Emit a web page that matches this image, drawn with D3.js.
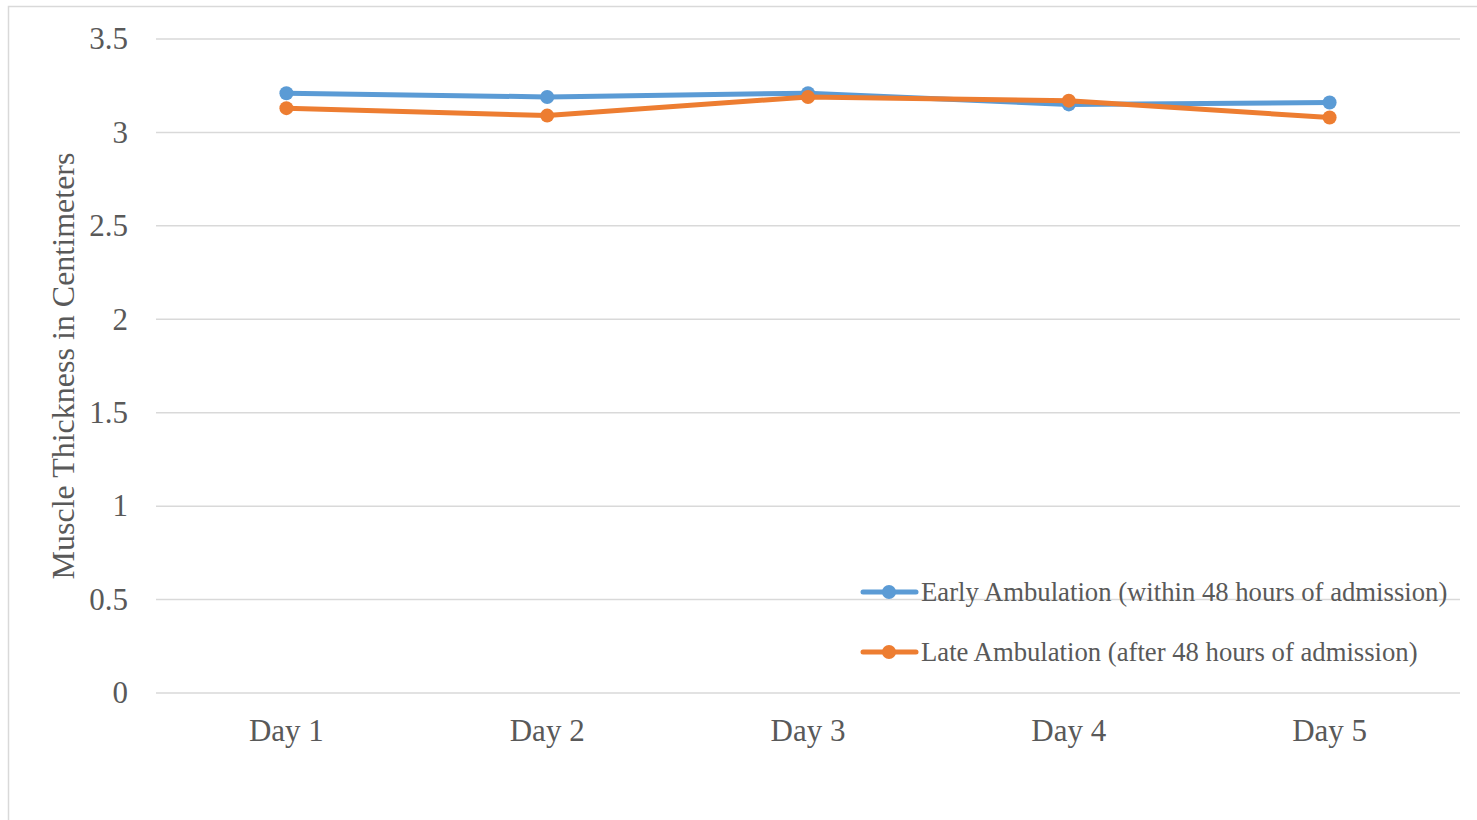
<!DOCTYPE html>
<html>
<head>
<meta charset="utf-8">
<script src="https://cdn.jsdelivr.net/npm/d3@7"></script>
<style>
  body { margin: 0; background: #fff; }
</style>
</head>
<body>
<div id="chart"></div>
<script>
// data
var days = ["Day 1", "Day 2", "Day 3", "Day 4", "Day 5"];
var early = [3.21, 3.19, 3.21, 3.15, 3.16];
var late = [3.13, 3.09, 3.19, 3.17, 3.08];
var seriesNames = ["Early Ambulation (within 48 hours of admission)", "Late Ambulation (after 48 hours of admission)"];
var yTicks = [0, 0.5, 1, 1.5, 2, 2.5, 3, 3.5];

const width = 1477, height = 820;
const colors = ["#5b9bd5", "#ed7d31"];

const svg = d3.select("#chart").append("svg")
    .attr("width", width)
    .attr("height", height)
    .attr("font-family", "'Liberation Serif', 'DejaVu Serif', serif")
    .attr("fill", "#595959");

// chart frame
svg.append("rect")
    .attr("x", 8.5).attr("y", 6.5)
    .attr("width", 1480).attr("height", 840)
    .attr("fill", "none")
    .attr("stroke", "#d9d9d9")
    .attr("stroke-width", 1.5);

const x = d3.scaleBand().domain(days).range([156, 1460]);
const y = d3.scaleLinear().domain([0, 3.5]).range([693, 39]);

// gridlines
svg.append("g").selectAll("line")
    .data(yTicks)
    .enter().append("line")
    .attr("x1", 156).attr("x2", 1460)
    .attr("y1", d => y(d)).attr("y2", d => y(d))
    .attr("stroke", "#d9d9d9")
    .attr("stroke-width", 1.5);

// y tick labels
svg.append("g").selectAll("text")
    .data(yTicks)
    .enter().append("text")
    .attr("x", 128)
    .attr("y", d => y(d))
    .attr("dy", "0.33em")
    .attr("text-anchor", "end")
    .style("font-size", "31px")
    .text(d => d);

// x labels
svg.append("g").selectAll("text")
    .data(days)
    .enter().append("text")
    .attr("x", d => x(d) + x.bandwidth() / 2)
    .attr("y", 730)
    .attr("dy", "0.35em")
    .attr("text-anchor", "middle")
    .style("font-size", "31px")
    .text(d => d);

// y title
svg.append("text")
    .attr("transform", "translate(63,366) rotate(-90)")
    .attr("dy", "0.35em")
    .attr("text-anchor", "middle")
    .style("font-size", "32px")
    .text("Muscle Thickness in Centimeters");

var line = d3.line()
    .x((d, i) => x(days[i]) + x.bandwidth() / 2)
    .y(d => y(d));

[early, late].forEach(function(vals, k) {
    svg.append("path")
        .datum(vals)
        .attr("d", line)
        .attr("fill", "none")
        .attr("stroke", colors[k])
        .attr("stroke-width", 5)
        .attr("stroke-linejoin", "round")
        .attr("stroke-linecap", "round");
    svg.append("g").selectAll("circle")
        .data(vals)
        .enter().append("circle")
        .attr("cx", (d, i) => x(days[i]) + x.bandwidth() / 2)
        .attr("cy", d => y(d))
        .attr("r", 7)
        .attr("fill", colors[k]);
});

// legend
var legend = svg.append("g").selectAll("g")
    .data(seriesNames)
    .enter().append("g")
    .attr("transform", (d, i) => "translate(0," + (592 + i * 60) + ")");

legend.append("line")
    .attr("x1", 863).attr("x2", 916)
    .attr("y1", 0).attr("y2", 0)
    .attr("stroke", (d, i) => colors[i])
    .attr("stroke-width", 5)
    .attr("stroke-linecap", "round");

legend.append("circle")
    .attr("cx", 889).attr("cy", 0).attr("r", 7)
    .attr("fill", (d, i) => colors[i]);

legend.append("text")
    .attr("x", 921)
    .attr("y", 0)
    .attr("dy", "0.33em")
    .style("font-size", "26.7px")
    .text(d => d);
</script>
</body>
</html>
